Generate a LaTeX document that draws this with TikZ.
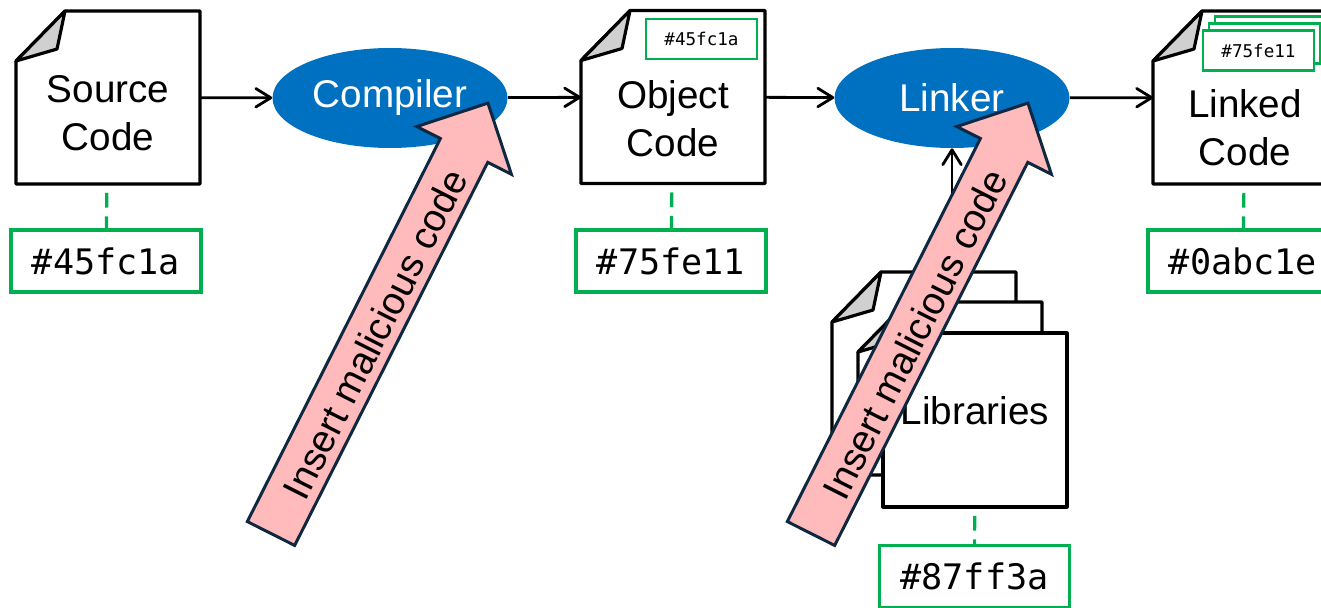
\documentclass[tikz,border=0pt]{standalone}
\usepackage{fontspec}
\usetikzlibrary{arrows.meta,calc,backgrounds,shapes.geometric}

\newfontfamily\labelfont{Liberation Sans}
\newfontfamily\hashfont{DejaVu Sans Mono}

\definecolor{procblue}{RGB}{0,112,192}
\definecolor{hashgreen}{RGB}{0,176,80}
\definecolor{attackpink}{RGB}{255,187,187}
\definecolor{attackline}{RGB}{14,40,65}
\definecolor{foldgray}{RGB}{208,208,208}

\tikzset{
  sheet/.style={line width=1.8pt, line join=round, fill=white},
  docbox/.style={minimum width=3.68cm, minimum height=3.46cm, inner sep=0pt, outer sep=0pt},
  doctext/.style={font=\labelfont\fontsize{22}{27.5}\selectfont, align=center},
  proc/.style={ellipse, fill=procblue, text=white, inner sep=0pt,
    minimum width=4.7cm, minimum height=2cm, font=\labelfont\fontsize{22}{27}\selectfont},
  hash/.style={draw=hashgreen, line width=1.8pt, fill=white, inner sep=0pt,
    minimum width=3.8cm, minimum height=1.24cm, font=\hashfont\fontsize{20}{24}\selectfont},
  tag/.style={hash, line width=1.6pt, minimum width=2.22cm, minimum height=0.8cm,
    font=\hashfont\fontsize{10}{12}\selectfont},
  flow/.style={line width=1.6pt, -{Straight Barb[length=8.5pt,width=10.5pt,round]}},
  hashlink/.style={hashgreen, line width=1.8pt, dash pattern=on 8.5pt off 5pt, dash phase=8.5pt},
  attack/.style={fill=attackpink, draw=attackline, line width=1.7pt, line join=miter},
}

% page outline with a turned-down corner, drawn behind node #1
\newcommand{\dogear}[1]{%
  \begin{pgfonlayer}{background}
    \draw[sheet] (#1.south west) -- ($(#1.north west)+(0,50)$) -- ($(#1.north west)+(49,0)$)
      -- (#1.north east) -- (#1.south east) -- cycle;
    \draw[sheet, fill=foldgray] ($(#1.north west)+(0,50)$) -- ($(#1.north west)+(49,0)$)
      -- ($(#1.north west)+(41,38)$) -- cycle;
  \end{pgfonlayer}}

\begin{document}
\begin{tikzpicture}[x=0.02cm, y=-0.02cm]
\useasboundingbox (0,0) rectangle (1321,608);

% documents
\node[docbox] (src) at (108,97.5) {};
\node[doctext] (srctxt) at ($(src.center)+(0,16)$) {Source\\Code};
\dogear{src}

\node[docbox] (obj) at (673,97) {};
\node[doctext] (objtxt) at ($(obj.center)+(0,22)$) {Object\\Code};
\dogear{obj}

\node[docbox] (lnk) at (1245,97.5) {};
\node[doctext] (lnktxt) at ($(lnk.center)+(0,30.5)$) {Linked\\Code};
\dogear{lnk}

% library stack
\node[docbox] (lib3) at (924,358.5) {};
\dogear{lib3}
\node[docbox] (lib2) at (950,388.5) {};
\dogear{lib2}
\node[docbox, sheet, draw, minimum height=3.48cm, doctext, text depth=0.4cm] (lib1) at (975,420) {Libraries};

% tools
\node[proc] (comp) at (390,98) {Compiler};
\node[proc] (link) at (952,98) {Linker};

\draw[flow] (src) -- (comp);
\draw[flow] (comp) -- (obj);
\draw[flow] (obj) -- (link);
\draw[flow] (link) -- (lnk);
\draw[flow] (lib3.north -| link.south) -- (link.south);

% hashes
\node[hash] (srchash) at (106,261) {\#45fc1a};
\node[hash] (objhash) at (671,261) {\#75fe11};
\node[hash] (lnkhash) at (1243,261) {\#0abc1e};
\node[hash] (libhash) at (974.5,576.5) {\#87ff3a};

\draw[hashlink] (src) -- (srchash);
\draw[hashlink] (obj) -- (objhash);
\draw[hashlink] (lnk) -- (lnkhash);
\draw[hashlink] (lib1) -- (libhash);

% embedded hashes
\node[tag] (objtag) at (701.5,39) {\#45fc1a};
\node[tag] (lnktag3) at (1270.5,36.5) {};
\node[tag] (lnktag2) at (1264.5,43.5) {};
\node[tag] (lnktag1) at (1258.5,50.5) {\#75fe11};

% attacks
\foreach \dx/\nm in {0/atk1, 540/atk2} {
  \begin{scope}[shift={(271+\dx,533.5)}, rotate=63.25]
    \draw[attack] (0,-26.5) -- (429,-26.5) -- (429,-53) -- (482,0) -- (429,53) -- (429,26.5) -- (0,26.5) -- cycle;
    \node[doctext, rotate=63.25] (\nm) at (225,3) {Insert malicious code};
  \end{scope}
}
\end{tikzpicture}
\end{document}
